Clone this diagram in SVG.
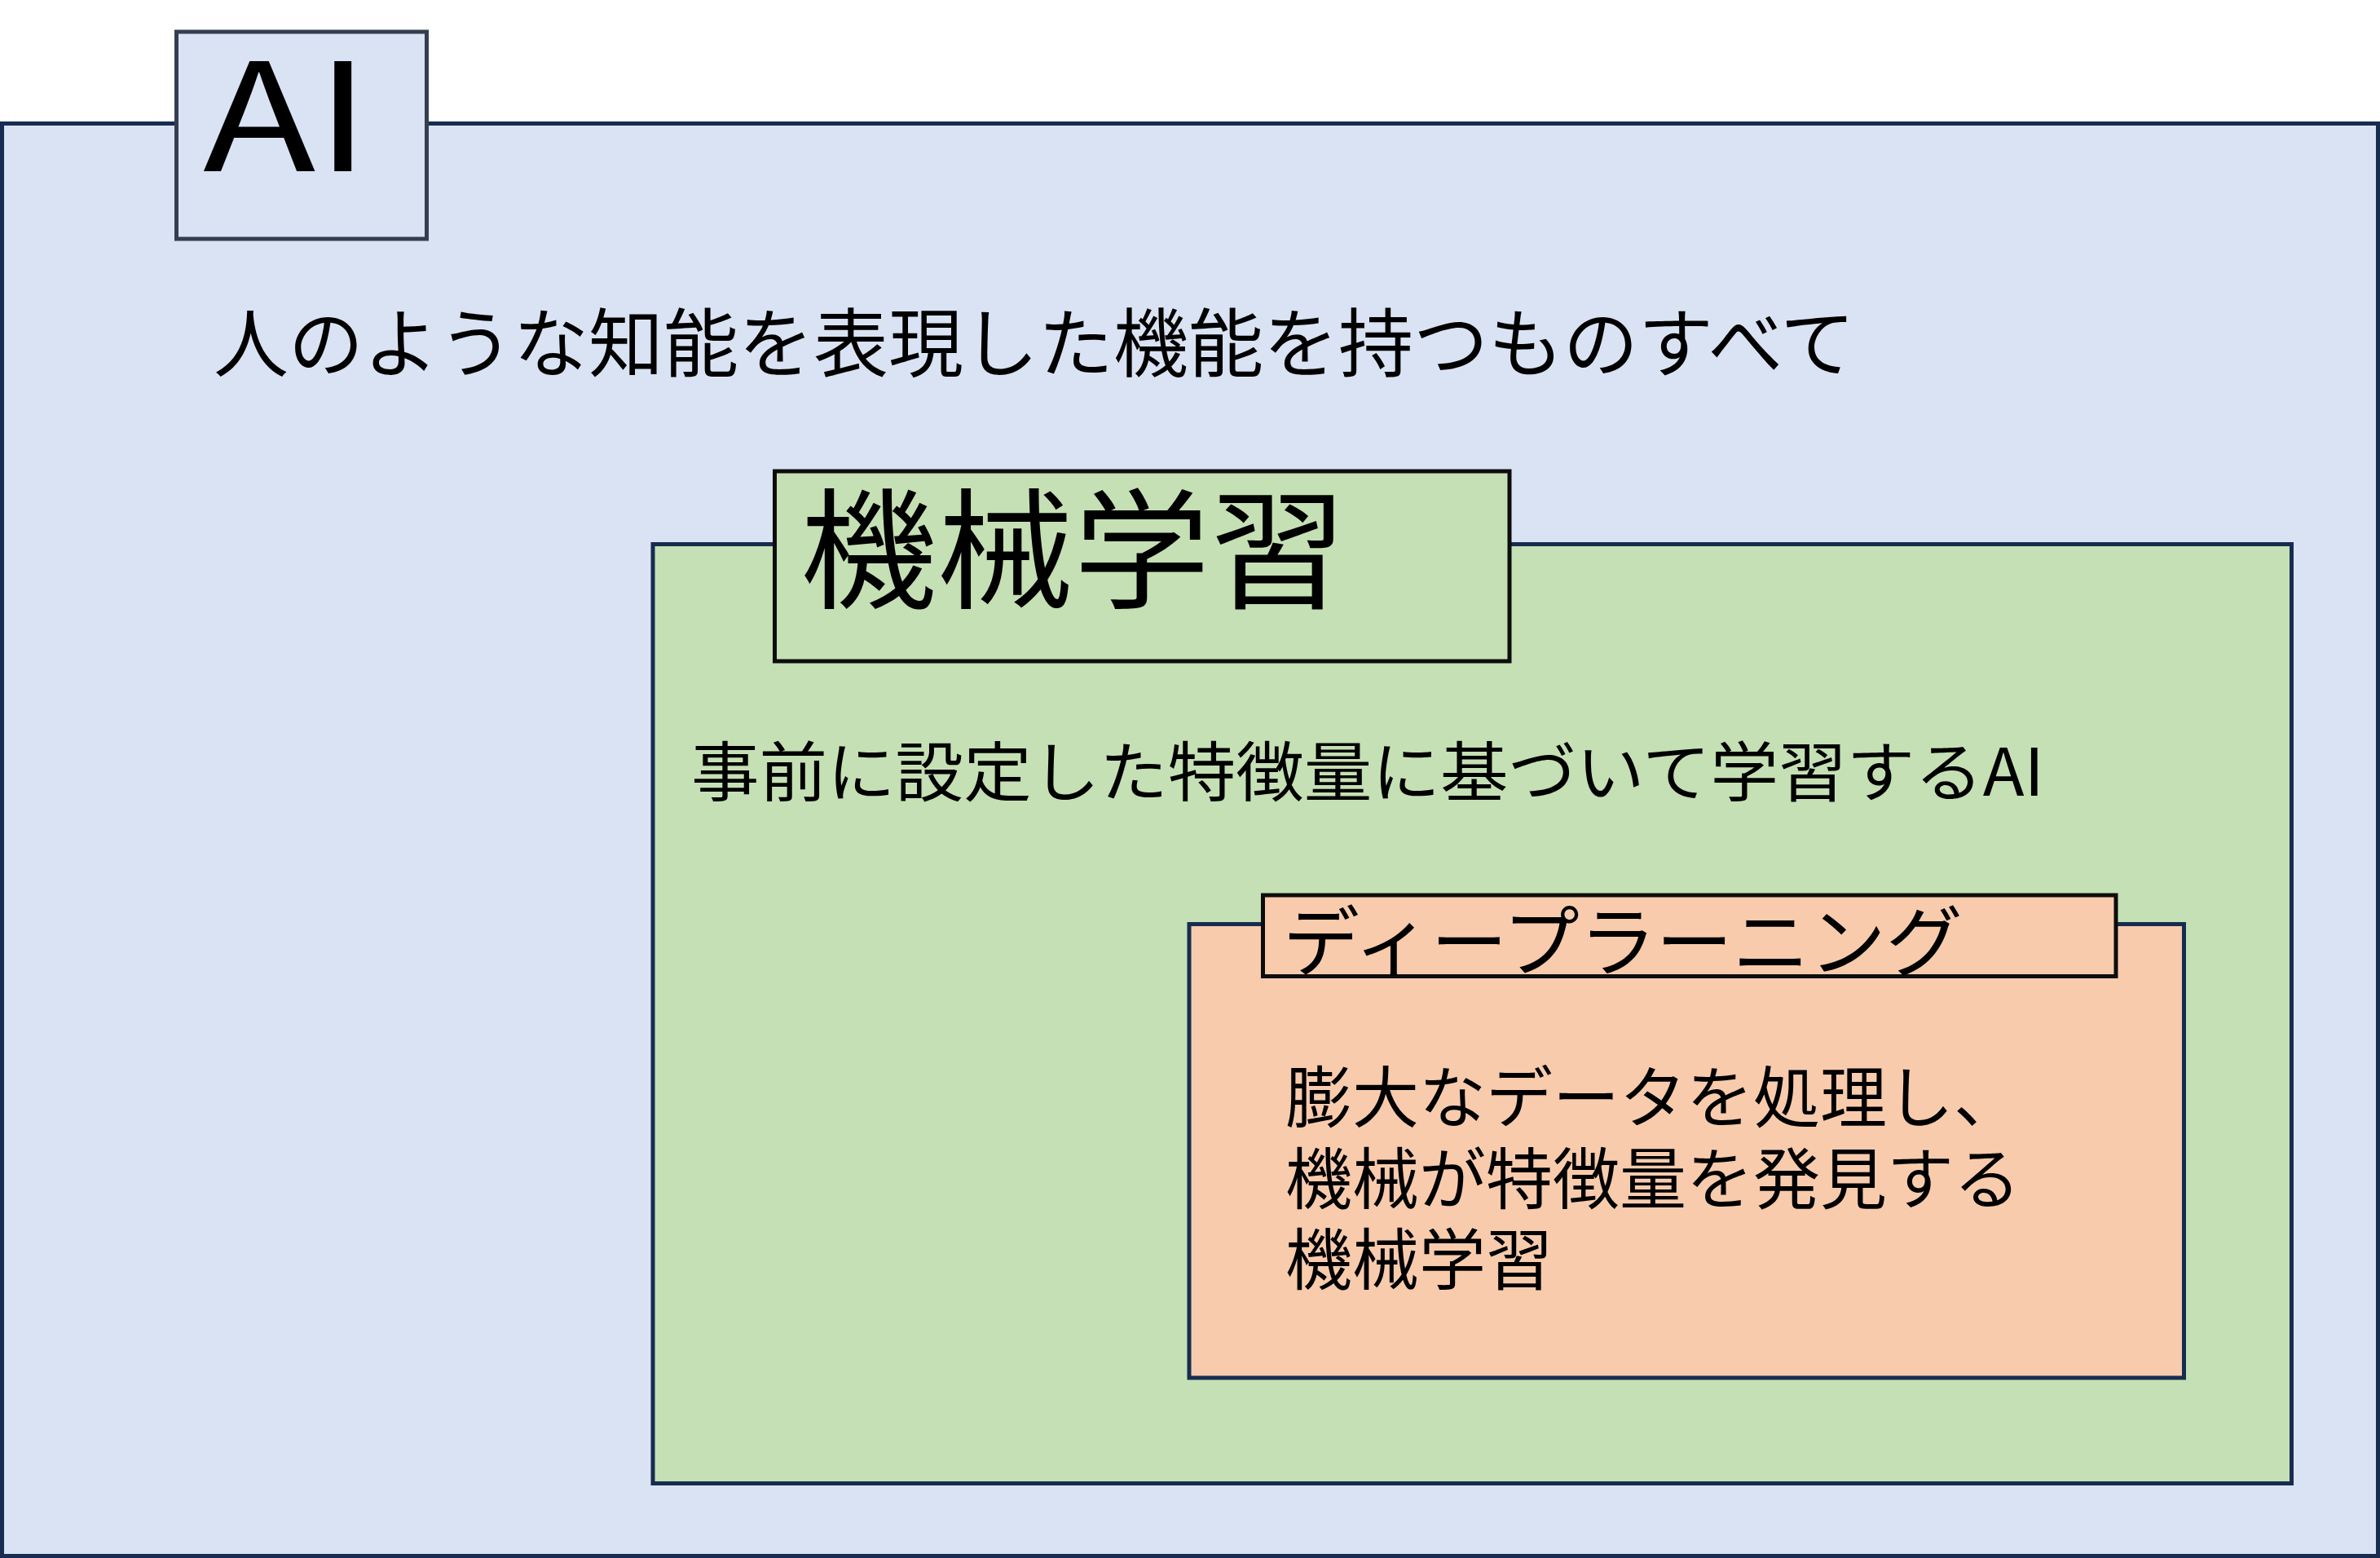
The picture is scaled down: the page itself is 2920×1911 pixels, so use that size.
<svg xmlns="http://www.w3.org/2000/svg" width="2920" height="1911" viewBox="0 0 2920 1911">
<style>
  .txt { font-family: "Noto Sans CJK JP", "Noto Sans", sans-serif; fill: #000000; }
  .navy { stroke: #172C51; stroke-width: 5; }
  .blue { fill: #DAE3F3; }
  .green { fill: #C5E0B4; }
  .orange { fill: #F8CBAD; }
  .tab-ai { fill: #DAE3F3; stroke: #333F50; stroke-width: 5; }
  .tab-dark { stroke: #0D0D0D; stroke-width: 5; }
</style>
<rect x="0" y="0" width="2920" height="1911" fill="#FFFFFF"/>
<g id="ai">
  <rect class="blue navy" x="2.5" y="151.5" width="2915" height="1757"/>
  <rect class="tab-ai" x="216.5" y="39" width="307" height="254"/>
  <text class="txt" x="249" y="210" font-size="184" textLength="205" lengthAdjust="spacingAndGlyphs">AI</text>
  <text class="txt" x="262" y="455" font-size="92">人のような知能を表現した機能を持つものすべて</text>
</g>
<g id="machine-learning">
  <rect class="green navy" x="801" y="667.5" width="2010.5" height="1152"/>
  <rect class="green tab-dark" x="950.5" y="578" width="901.5" height="233"/>
  <text class="txt" x="982" y="734" font-size="160" textLength="670" lengthAdjust="spacingAndGlyphs">機械学習</text>
  <text class="txt" x="848" y="976" font-size="80" textLength="1660" lengthAdjust="spacingAndGlyphs">事前に設定した特徴量に基づいて学習するAI</text>
</g>
<g id="deep-learning">
  <rect class="orange navy" x="1459" y="1133.5" width="1220.5" height="556.5"/>
  <rect class="orange tab-dark" x="1549.5" y="1098" width="1046.5" height="99.5"/>
  <text class="txt" x="1574" y="1190" font-size="94">ディープラーニング</text>
  <text class="txt" font-size="82">
    <tspan x="1577" y="1376">膨大なデータを処理し、</tspan>
    <tspan x="1577" y="1476">機械が特徴量を発見する</tspan>
    <tspan x="1577" y="1575">機械学習</tspan>
  </text>
</g>
<g id="connectors"/>
</svg>
